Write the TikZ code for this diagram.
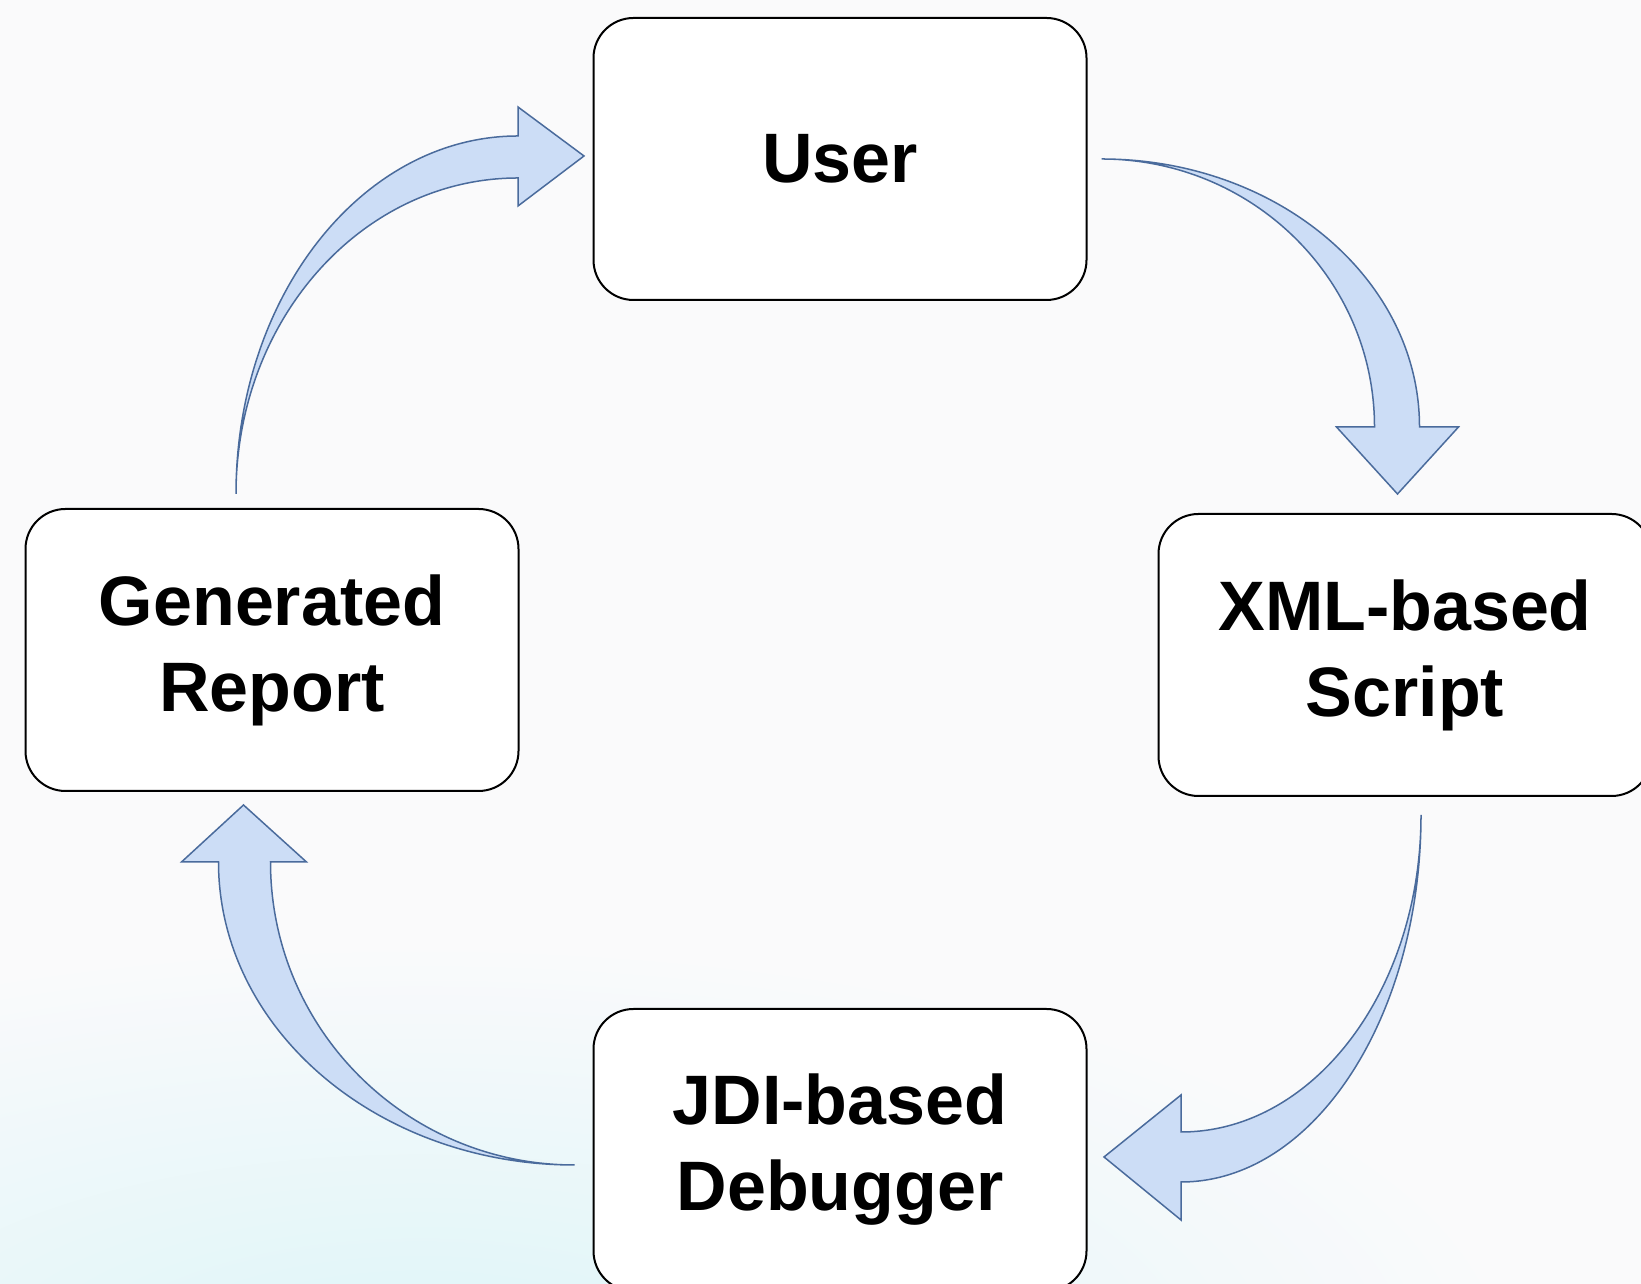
\documentclass[tikz,border=0pt]{standalone}
\usepackage{fontspec}
\setmainfont{Liberation Sans}
\usetikzlibrary{shapes,arrows,positioning}
\definecolor{Backdrop}{HTML}{FAFAFB}
\definecolor{Glow}{HTML}{DDF5F8}
\definecolor{ArrowFill}{HTML}{CCDDF6}
\definecolor{ArrowLine}{HTML}{4A6B9C}
\tikzstyle{Block} = [draw, rectangle, rounded corners=40pt, fill=white, line width=2pt, minimum width=493pt, minimum height=282pt, align=center, font=\fontsize{70}{86}\selectfont\bfseries]
\tikzstyle{BentArrow} = [fill=ArrowFill, draw=ArrowLine, line width=1.5pt, line join=miter]

\begin{document}
\begin{tikzpicture}[x=1pt,y=1pt]
    \useasboundingbox (0,0) rectangle (1641,1284);
    \clip (0,0) rectangle (1641,1284);
    \fill[Backdrop] (0,0) rectangle (1641,1284);
    \shade[inner color=Glow, outer color=Backdrop] (420pt,-80pt) ellipse [x radius=1100pt, y radius=420pt];
    \node[Block] (user)     at (840,1125)                          {User};
    \node[Block] (script)   [below right=212pt and 70pt of user]   {XML-based\\Script};
    \node[Block] (report)   [below left=207pt and 73pt of user]    {Generated\\Report};
    \node[Block] (debugger) [below=707pt of user]                  {JDI-based\\Debugger};
    \draw[BentArrow] ([xshift=14pt]user.east)
        arc[start angle=90, end angle=0, x radius=318pt, y radius=268pt]
        -- ++(39,0) -- ++(-61,-67) -- ++(-61,67) -- ++(38,0)
        arc[start angle=0, end angle=90, x radius=273pt, y radius=268pt] -- cycle;
    \draw[BentArrow] ([xshift=16pt,yshift=-18pt]script.south)
        arc[start angle=0, end angle=-90, x radius=240pt, y radius=367pt]
        -- ++(0,-38) -- ++(-77,63) -- ++(77,62) -- ++(0,-37)
        arc[start angle=-90, end angle=0, x radius=240pt, y radius=317pt] -- cycle;
    \draw[BentArrow] ([xshift=-18pt,yshift=-15pt]debugger.west)
        arc[start angle=-90, end angle=-180, x radius=356pt, y radius=303pt]
        -- ++(-37,0) -- ++(62,57) -- ++(63,-57) -- ++(-36,0)
        arc[start angle=-180, end angle=-90, x radius=304pt, y radius=303pt] -- cycle;
    \draw[BentArrow] ([xshift=-36pt,yshift=14pt]report.north)
        arc[start angle=180, end angle=90, x radius=282pt, y radius=358pt]
        -- ++(0,29) -- ++(66,-49) -- ++(-66,-50) -- ++(0,28)
        arc[start angle=90, end angle=180, x radius=282pt, y radius=316pt] -- cycle;
\end{tikzpicture}
\end{document}
